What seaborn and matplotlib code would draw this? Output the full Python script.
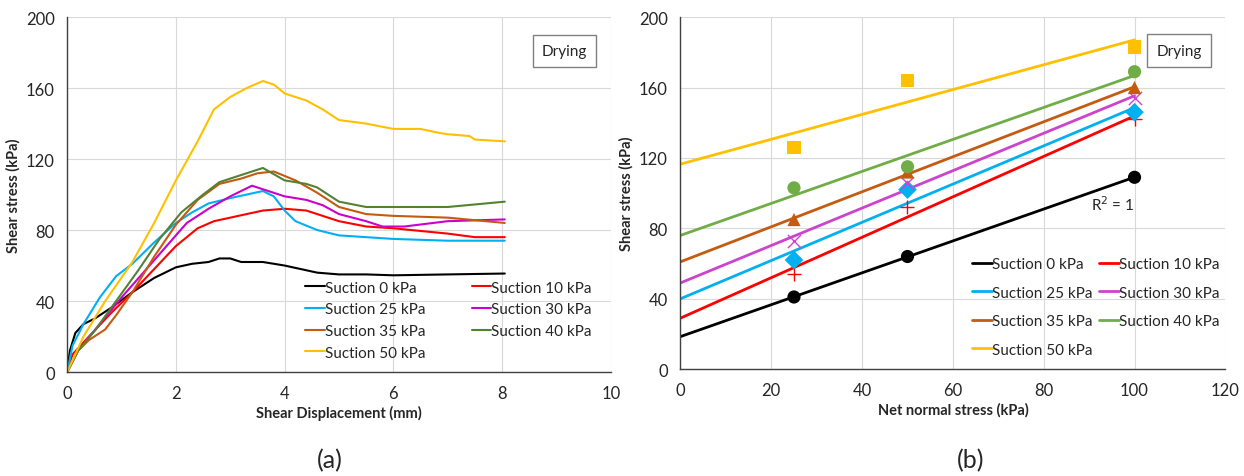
import numpy as np
import pandas as pd
import seaborn as sns
import matplotlib.pyplot as plt
from matplotlib.ticker import MultipleLocator

# ---- panel (a): shear stress vs shear displacement
suctions = ['Suction 0 kPa', 'Suction 10 kPa', 'Suction 25 kPa', 'Suction 30 kPa',
            'Suction 35 kPa', 'Suction 40 kPa', 'Suction 50 kPa']

disp_0 = [0, 0.05, 0.15, 0.3, 0.5, 0.8, 1.2, 1.6, 2.0, 2.3, 2.6, 2.8, 3.0, 3.2, 3.6, 4.0, 4.3, 4.6, 5.0, 5.5, 6.0, 7.0, 8.05]
tau_0 = [0, 12, 22, 27, 30, 36, 45, 53, 59, 61, 62, 64, 64, 62, 62, 60, 58, 56, 55, 55, 54.5, 55, 55.5]

disp_10 = [0, 0.1, 0.4, 0.8, 1.2, 1.6, 2.0, 2.4, 2.7, 3.0, 3.3, 3.6, 4.0, 4.4, 4.7, 5.0, 5.5, 6.0, 7.0, 7.5, 8.05]
tau_10 = [0, 10, 20, 33, 45, 58, 71, 81, 85, 87, 89, 91, 92, 91, 88, 85, 82, 81, 78, 76, 76]

disp_25 = [0, 0.1, 0.3, 0.6, 0.9, 1.2, 1.6, 2.0, 2.3, 2.6, 3.0, 3.3, 3.6, 3.8, 4.0, 4.2, 4.6, 5.0, 5.5, 6.0, 7.0, 8.05]
tau_25 = [0, 15, 27, 42, 54, 61, 73, 84, 90, 95, 98, 100, 102, 99, 91, 85, 80, 77, 76, 75, 74, 74]

disp_30 = [0, 0.2, 0.6, 1.0, 1.4, 1.8, 2.2, 2.6, 3.0, 3.4, 3.7, 4.0, 4.4, 4.7, 5.0, 5.5, 5.8, 6.2, 7.0, 8.05]
tau_30 = [0, 12, 27, 42, 56, 70, 84, 92, 99, 105, 102, 99, 97, 94, 89, 85, 82, 82, 85, 86]

disp_35 = [0, 0.2, 0.4, 0.7, 0.9, 1.2, 1.6, 2.0, 2.4, 2.8, 3.2, 3.5, 3.8, 4.2, 4.6, 5.0, 5.5, 6.0, 7.0, 8.05]
tau_35 = [0, 12, 18, 24, 32, 45, 65, 83, 97, 106, 109, 112, 113, 108, 101, 93, 89, 88, 87, 84]

disp_40 = [0, 0.2, 0.5, 0.9, 1.3, 1.7, 2.1, 2.5, 2.8, 3.2, 3.6, 4.0, 4.4, 4.6, 5.0, 5.5, 6.0, 7.0, 8.05]
tau_40 = [0, 12, 23, 40, 57, 75, 90, 100, 107, 111, 115, 108, 106, 104, 96, 93, 93, 93, 96]

disp_50 = [0, 0.3, 0.7, 1.2, 1.6, 2.0, 2.4, 2.7, 3.0, 3.3, 3.6, 3.8, 4.0, 4.4, 4.7, 5.0, 5.5, 6.0, 6.5, 6.8, 7.0, 7.4, 7.5, 8.05]
tau_50 = [0, 20, 40, 62, 84, 108, 130, 148, 155, 160, 164, 162, 157, 153, 148, 142, 140, 137, 137, 135, 134, 133, 131, 130]

# ---- panel (b): failure envelopes
normal_stress = [25, 50, 100]
peak_0 = [41, 64, 109]
peak_10 = [54, 92, 142]
peak_25 = [62, 102, 146]
peak_30 = [73, 106, 154]
peak_35 = [85, 112, 160]
peak_40 = [103, 115, 169]
peak_50 = [126, 164, 183]

colors_a = ['#000000', '#ff0000', '#00b0f0', '#cc00cc', '#c55a11', '#548235', '#ffc000']
colors_b = ['#000000', '#ff0000', '#00b0f0', '#cc44cc', '#c55a11', '#70ad47', '#ffc000']
markers_b = ['o', '+', 'D', 'x', '^', 'o', 's']

curves = [(disp_0, tau_0), (disp_10, tau_10), (disp_25, tau_25), (disp_30, tau_30),
          (disp_35, tau_35), (disp_40, tau_40), (disp_50, tau_50)]
peaks = [peak_0, peak_10, peak_25, peak_30, peak_35, peak_40, peak_50]

df_a = pd.concat([pd.DataFrame({'disp': d, 'tau': t, 'suction': s})
                  for (d, t), s in zip(curves, suctions)], ignore_index=True)

sns.set_style('white')
plt.rcParams['font.family'] = ['Lato', 'DejaVu Sans']

fig = plt.figure(figsize=(12.44, 4.77), dpi=100)
ax1 = fig.add_axes([0.054, 0.218, 0.437, 0.744])
ax2 = fig.add_axes([0.547, 0.224, 0.438, 0.738])


def style_axes(ax, xmax, xmaj, xmin):
    ax.set_ylim(0, 200)
    ax.set_xlim(0, xmax)
    ax.xaxis.set_major_locator(MultipleLocator(xmaj))
    ax.xaxis.set_minor_locator(MultipleLocator(xmin))
    ax.yaxis.set_major_locator(MultipleLocator(40))
    ax.yaxis.set_minor_locator(MultipleLocator(20))
    ax.grid(True, which='major', color='#d9d9d9', lw=0.8)
    ax.set_axisbelow(True)
    for sp in ['top', 'right']:
        ax.spines[sp].set_visible(False)
    for sp in ['left', 'bottom']:
        ax.spines[sp].set_color('#404040')
        ax.spines[sp].set_linewidth(1.0)
    ax.tick_params(which='major', direction='out', length=4, color='#404040', labelsize=12, pad=5)
    ax.tick_params(which='minor', direction='in', length=4, color='#404040')
    ax.text(0.915, 0.905, 'Drying', transform=ax.transAxes, fontsize=11, ha='center', va='center',
            bbox=dict(boxstyle='square,pad=0.6', fc='white', ec='#808080', lw=1.0))


# (a)
sns.lineplot(data=df_a, x='disp', y='tau', hue='suction', palette=dict(zip(suctions, colors_a)),
             sort=False, estimator=None, lw=1.5, legend=False, ax=ax1)
style_axes(ax1, 10, 2, 1)
ax1.set_xlabel('Shear Displacement (mm)', fontweight='bold', fontsize=10.5, labelpad=3)
ax1.set_ylabel('Shear stress (kPa)', fontweight='bold', fontsize=10.5, labelpad=4)

order = [0, 2, 4, 6, 1, 3, 5]
h1 = ax1.get_lines()
leg1 = ax1.legend([h1[i] for i in order], [suctions[i] for i in order], ncol=2, loc='lower right',
                  bbox_to_anchor=(0.985, 0.005), frameon=False, fontsize=11, handlelength=1.3,
                  handletextpad=0.0, columnspacing=3.0, labelspacing=0.5, borderpad=0.2)

# (b)
xfit = np.array([0, 100])
for s, p, c, m in zip(suctions, peaks, colors_b, markers_b):
    slope, icpt = np.polyfit(normal_stress, p, 1)
    sns.lineplot(x=xfit, y=icpt + slope * xfit, color=c, lw=2.0, ax=ax2, label=s)
    if m in ['+', 'x']:
        sns.scatterplot(x=normal_stress, y=p, marker=m, color=c, s=90, linewidth=1.0, ax=ax2, zorder=3)
    else:
        sns.scatterplot(x=normal_stress, y=p, marker=m, color=c, s=90, edgecolor='none', ax=ax2, zorder=3)
style_axes(ax2, 120, 20, 10)
ax2.set_xlabel('Net normal stress (kPa)', fontweight='bold', fontsize=10.5, labelpad=3)
ax2.set_ylabel('Shear stress (kPa)', fontweight='bold', fontsize=10.5, labelpad=4)
ax2.text(90.5, 94, 'R$^2$ = 1', fontsize=11, va='center')

h2 = ax2.get_lines()
leg2 = ax2.legend([h2[i] for i in order], [suctions[i] for i in order], ncol=2, loc='lower right',
                  bbox_to_anchor=(1.008, 0.005), frameon=False, fontsize=11, handlelength=1.3,
                  handletextpad=0.0, columnspacing=0.4, labelspacing=0.95, borderpad=0.2)

fig.text(0.265, 0.035, '(a)', fontsize=18, ha='center', va='center')
fig.text(0.78, 0.035, '(b)', fontsize=18, ha='center', va='center')

fig.savefig('out.png', dpi=100)
